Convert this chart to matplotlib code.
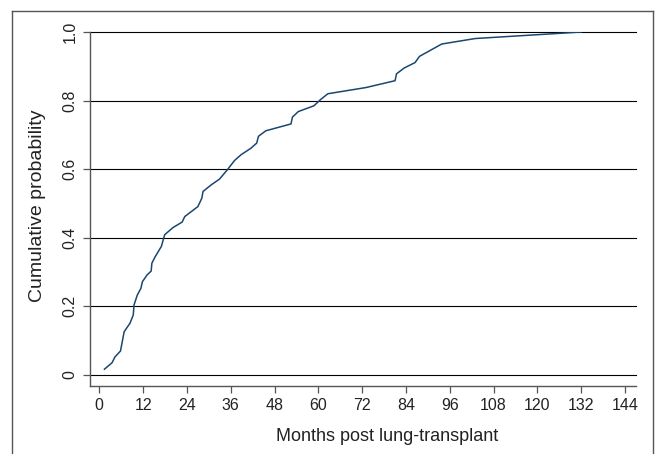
import matplotlib
matplotlib.use("Agg")
import matplotlib.pyplot as plt
from matplotlib.lines import Line2D

plt.rcParams['font.family'] = ['Liberation Sans', 'DejaVu Sans']

# cumulative probability curve
months = [1.4, 3.5, 4.3, 5.8, 6.8, 8.4, 9.3, 9.5, 10.4, 11.4, 11.8, 13.1, 14.2,
          14.4, 15.2, 17.0, 17.9, 20.2, 22.7, 23.4, 27.0, 28.1, 28.4, 30.6,
          32.9, 35.2, 37.0, 38.8, 41.5, 43.1, 43.6, 45.6, 52.5, 52.9, 54.5,
          58.8, 60.6, 62.6, 73.0, 81.0, 81.4, 83.5, 86.5, 87.7, 93.8, 103.0,
          132.0]
cumprob = [0.017, 0.036, 0.053, 0.070, 0.126, 0.151, 0.175, 0.204, 0.233,
           0.253, 0.272, 0.292, 0.303, 0.326, 0.343, 0.375, 0.409, 0.430,
           0.446, 0.462, 0.491, 0.516, 0.535, 0.554, 0.571, 0.600, 0.625,
           0.642, 0.661, 0.676, 0.696, 0.712, 0.732, 0.752, 0.768, 0.785,
           0.803, 0.820, 0.838, 0.858, 0.878, 0.895, 0.911, 0.929, 0.965,
           0.981, 1.0]

xticks = list(range(0, 145, 12))
yticks = [0, 0.2, 0.4, 0.6, 0.8, 1.0]
ylabels = ['0', '0.2', '0.4', '0.6', '0.8', '1.0']

fig = plt.figure(figsize=(6.58, 4.54), dpi=100)
ax = fig.add_axes([90 / 658, 1 - 386 / 454, 546 / 658, 354 / 454])

for y in yticks:
    ax.axhline(y, color='black', lw=0.8, zorder=1, clip_on=False)

ax.plot(months, cumprob, color='#1a476f', lw=1.1, zorder=3)

ax.set_xlim(-2.55, 147)
ax.set_ylim(-0.032, 1.0)
ax.set_xticks(xticks)
ax.set_yticks(yticks)
ax.set_yticklabels(ylabels, rotation=90, va='center')

for s in ['top', 'right']:
    ax.spines[s].set_visible(False)
for s in ['left', 'bottom']:
    ax.spines[s].set_color('#555555')
    ax.spines[s].set_linewidth(1.0)

ax.tick_params(axis='both', direction='out', length=5, width=0.9,
               color='#555555', labelsize=11.5, labelcolor='#222222', pad=4)

ax.set_xlabel('Months post lung-transplant', fontsize=13, color='#222222')
ax.xaxis.set_label_coords(0.544, -0.118)
ax.set_ylabel('Cumulative probability', fontsize=14, color='#222222')
ax.yaxis.set_label_coords(-0.08, 0.51)

# outer frame
fx0, fx1 = 12 / 658, 653 / 658
fy0, fy1 = 0.0, 1 - 11 / 454
for xs, ys in [([fx0, fx0], [fy0, fy1]), ([fx0, fx1], [fy1, fy1]),
               ([fx1, fx1], [fy1, fy0])]:
    fig.add_artist(Line2D(xs, ys, color='#555555', lw=1.0,
                          transform=fig.transFigure))

fig.savefig('out.png', dpi=100)
